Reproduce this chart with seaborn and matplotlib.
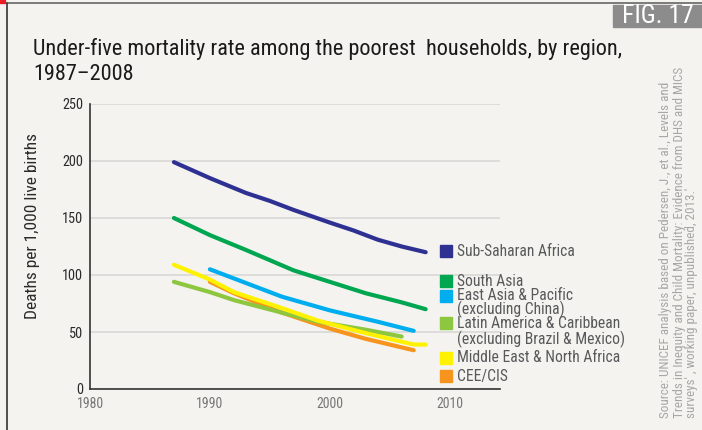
import pandas as pd
import matplotlib.pyplot as plt
import seaborn as sns
from matplotlib.patches import Rectangle

# data
regions = ["Sub-Saharan Africa", "South Asia", "East Asia & Pacific",
           "CEE/CIS", "Latin America & Caribbean", "Middle East & North Africa"]

ssa_years = [1987, 1990, 1993, 1995, 1997, 2000, 2002, 2004, 2006, 2008]
ssa_vals = [199, 185, 172, 165, 157, 146, 139, 131, 125, 120]

sa_years = [1987, 1990, 1993, 1995, 1997, 2000, 2003, 2006, 2008]
sa_vals = [150, 135, 122, 113, 104, 94, 84, 76, 70]

eap_years = [1990, 1993, 1996, 2000, 2004, 2007]
eap_vals = [105, 93, 81, 69, 59, 51]

cee_years = [1990, 1992, 1996, 2000, 2003, 2007]
cee_vals = [94, 84, 67, 53, 44, 34]

lac_years = [1987, 1990, 1992, 1996, 1999, 2003, 2006]
lac_vals = [94, 85, 78, 67, 59, 52, 46]

mena_years = [1987, 1990, 1992, 1996, 1999, 2003, 2007, 2008]
mena_vals = [109, 96, 85, 71, 60, 49, 39, 39]

colors = ["#2e3192", "#00a650", "#00aeef", "#f7941d", "#8dc63f", "#fff200"]

legend_labels = [["Sub-Saharan Africa"], ["South Asia"],
                 ["East Asia & Pacific", "(excluding China)"],
                 ["Latin America & Caribbean", "(excluding Brazil & Mexico)"],
                 ["Middle East & North Africa"], ["CEE/CIS"]]
legend_colors = ["#2e3192", "#00a650", "#00aeef", "#8dc63f", "#fff200", "#f7941d"]
legend_ypx = [251, 281, 296, 323, 358, 376]
legend_gap = [0, 0, 13, 16, 0, 0]

title_lines = ["Under-five mortality rate among the poorest  households, by region,",
               "1987\u20132008"]
source_lines = ["Source: UNICEF analysis based on Pedersen, J., et al., Levels and",
                "Trends in Inequity and Child Mortality: Evidence from DHS and MICS",
                "surveys' , working paper, unpublished, 2013.'"]

all_years = [ssa_years, sa_years, eap_years, cee_years, lac_years, mena_years]
all_vals = [ssa_vals, sa_vals, eap_vals, cee_vals, lac_vals, mena_vals]

rows = []
for reg, ys, vs in zip(regions, all_years, all_vals):
    for y, v in zip(ys, vs):
        rows.append({"region": reg, "year": y, "rate": v})
df = pd.DataFrame(rows)

bg = "#f4f3ef"
sns.set_style("white", {"axes.facecolor": bg, "figure.facecolor": bg})
plt.rcParams["font.family"] = ["Roboto Condensed", "Roboto", "DejaVu Sans"]

W, H = 702, 430
fig = plt.figure(figsize=(W / 100, H / 100), dpi=100)
renderer = fig.canvas.get_renderer()


def fx(px):
    return px / W


def fy(py):
    return 1 - py / H


def fit(t, target, vertical=False):
    # scale font so the text spans `target` pixels
    bb = t.get_window_extent(renderer)
    size = bb.height if vertical else bb.width
    t.set_fontsize(t.get_fontsize() * target / size)
    return t.get_fontsize()


def size_for(text, target):
    t = fig.text(0, 0, text, fontsize=10)
    s = fit(t, target)
    t.remove()
    return s


ax = fig.add_axes([fx(90), fy(389), fx(500) - fx(90), fy(104) - fy(389)])

sns.lineplot(data=df, x="year", y="rate", hue="region", hue_order=regions,
             palette=colors, linewidth=3.0, legend=False, ax=ax,
             solid_capstyle="round")

ytick_size = size_for("250", 21)
xtick_size = size_for("1980", 27)

ax.set_xlim(1980, 2014.2)
ax.set_ylim(0, 250)
ax.set_xticks([1980, 1990, 2000, 2010])
ax.set_yticks([0, 50, 100, 150, 200, 250])
ax.grid(axis="y", color="#d8d8d6", linewidth=1.2)
ax.set_axisbelow(True)
ax.tick_params(axis="y", length=0, labelsize=ytick_size, labelcolor="#2a2a2a", pad=5)
ax.tick_params(axis="x", length=0, labelsize=xtick_size, labelcolor="#777777", pad=6)
ax.set_xlabel("")
ax.set_ylabel("")
for s in ["top", "right"]:
    ax.spines[s].set_visible(False)
for s in ["left", "bottom"]:
    ax.spines[s].set_color("#333333")
    ax.spines[s].set_linewidth(1.2)

ylab = fig.text(fx(33), fy(226), "Deaths per 1,000 live births", rotation=90,
                ha="center", va="center", color="#2a2a2a", fontsize=12)
fit(ylab, 185, vertical=True)

# legend, drawn by hand to keep the uneven spacing of the original
leg_size = size_for("Sub-Saharan Africa", 118)
for lines, col, ypx, gap in zip(legend_labels, legend_colors, legend_ypx, legend_gap):
    fig.patches.append(Rectangle((fx(440), fy(ypx + 6)), fx(12), fy(ypx - 6) - fy(ypx + 6),
                                 transform=fig.transFigure, color=col))
    for i, line in enumerate(lines):
        fig.text(fx(457), fy(ypx + i * gap), line, fontsize=leg_size, color="#58595b",
                 va="center", ha="left")

# title
t1 = fig.text(fx(33), fy(55), title_lines[0], fontsize=15, color="#1a1a1a",
              va="baseline", ha="left")
tsize = fit(t1, 589)
fig.text(fx(33), fy(80), title_lines[1], fontsize=tsize, color="#1a1a1a",
         va="baseline", ha="left")

# frame bits
fig.add_artist(plt.Line2D([fx(7), fx(702)], [fy(2.5), fy(2.5)], color="#666666", linewidth=1.2))
fig.add_artist(plt.Line2D([fx(7), fx(7)], [fy(2.5), 0], color="#333333", linewidth=1.2))
fig.patches.append(Rectangle((0, fy(3)), fx(5), fy(0) - fy(3), transform=fig.transFigure, color="#ed1c24"))
fig.patches.append(Rectangle((fx(613), fy(27)), fx(89), fy(5) - fy(27), transform=fig.transFigure,
                             color="#8c8c8c"))
ft = fig.text(fx(658), fy(16), "FIG. 17", fontsize=15, color="white", ha="center", va="center")
fit(ft, 72)

# source note, one text per line
src_texts = []
for i, line in enumerate(source_lines):
    src_texts.append(fig.text(fx(666 + 13 * i), fy(418), line, rotation=90, fontsize=9,
                              color="#a7a7a7", ha="center", va="bottom"))
ssize = fit(src_texts[1], 350, vertical=True)
for t in src_texts:
    t.set_fontsize(ssize)

fig.savefig("out.png", dpi=100, facecolor=bg)
